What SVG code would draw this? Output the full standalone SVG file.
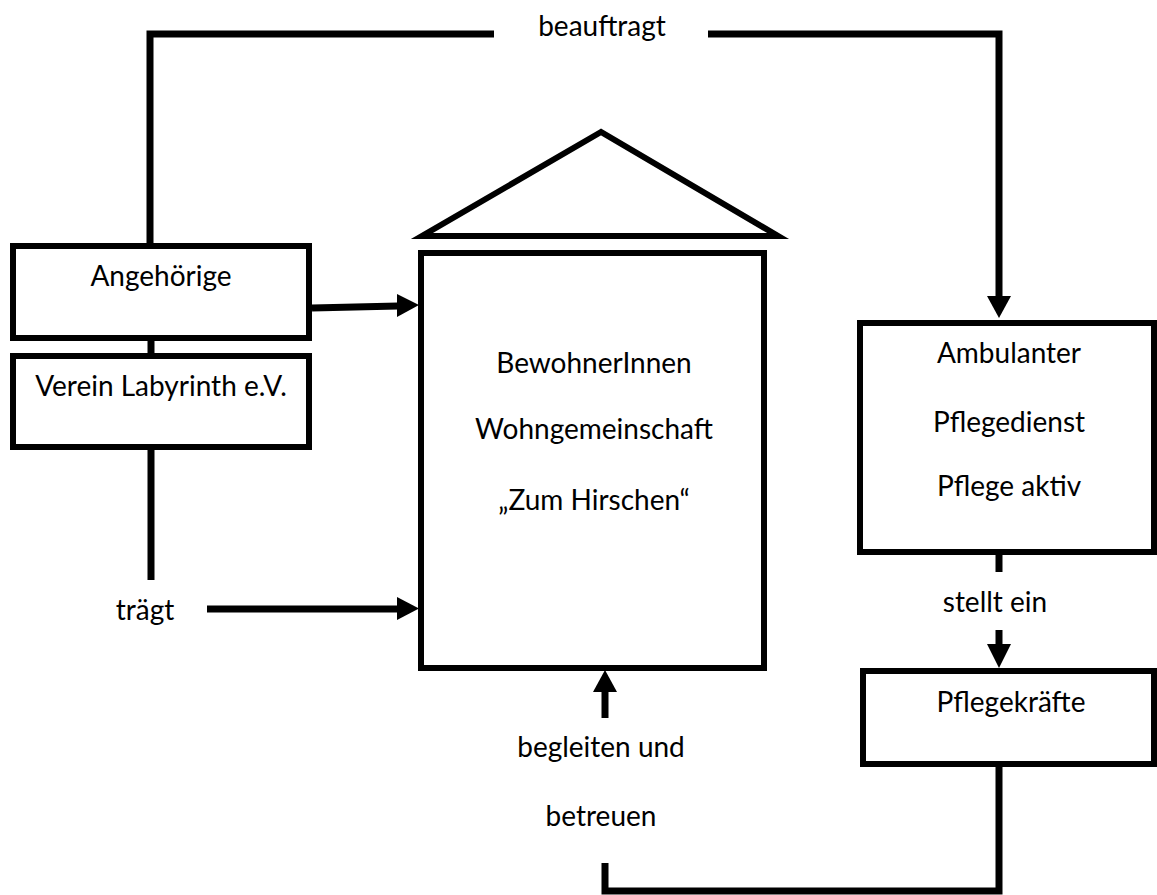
<svg xmlns="http://www.w3.org/2000/svg" width="1157" height="895" viewBox="0 0 1157 895">
<style>
.box{fill:#fff;stroke:#000;stroke-width:6}
.con{fill:none;stroke:#000;stroke-width:7}
text{font-family:Lato,"Open Sans","Liberation Sans",sans-serif;font-size:28px;fill:#000;text-anchor:middle}
</style>
<defs>
<marker id="ah" markerUnits="userSpaceOnUse" markerWidth="24" markerHeight="24" refX="22" refY="11.5" orient="auto">
<path d="M0,0 L22,11.5 L0,23 z" fill="#000"/>
</marker>
</defs>
<rect width="1157" height="895" fill="#fff"/>
<g id="connectors">
<path class="con" d="M150,246 V34 H494"/>
<path class="con" d="M708,34 H999 V296"/>
<path d="M987,296 L1011,296 L999,318 z" fill="#000"/>
<path class="con" d="M312,308 L398,306"/>
<path d="M397,294 L419,305 L397,317 z" fill="#000"/>
<path class="con" d="M151,341 V353"/>
<path class="con" d="M151,450 V580"/>
<path class="con" d="M207,609 H398"/>
<path d="M397,597 L419,608.5 L397,620 z" fill="#000"/>
<path class="con" d="M605,718 V690"/>
<path d="M593,692 L605,670 L617,692 z" fill="#000"/>
<path class="con" d="M605,863 V891 H999 V761"/>
<path class="con" d="M999,555 V572"/>
<path class="con" d="M999,630 V646"/>
<path d="M987,644 L1011,644 L999,668 z" fill="#000"/>
<text x="602" y="36">beauftragt</text>
<text x="145" y="620">trägt</text>
<text x="601" y="757">begleiten und</text>
<text x="601" y="826">betreuen</text>
<text x="995" y="612">stellt ein</text>
</g>
<g id="angehoerige">
<rect class="box" x="13" y="246" width="296" height="92"/>
<text x="161" y="286">Angehörige</text>
</g>
<g id="verein">
<rect class="box" x="13" y="356" width="296" height="91"/>
<text x="161" y="396">Verein Labyrinth e.V.</text>
</g>
<g id="wohngemeinschaft">
<polygon class="box" points="601,132 422,236 778,236"/>
<rect class="box" x="421" y="253" width="343" height="415"/>
<text x="594" y="373">BewohnerInnen</text>
<text x="594" y="439">Wohngemeinschaft</text>
<text x="594" y="510">„Zum Hirschen“</text>
</g>
<g id="pflegedienst">
<rect class="box" x="860" y="323" width="294" height="229"/>
<text x="1009" y="363">Ambulanter</text>
<text x="1009" y="432">Pflegedienst</text>
<text x="1009" y="496">Pflege aktiv</text>
</g>
<g id="pflegekraefte">
<rect class="box" x="863" y="671" width="291" height="93"/>
<text x="1011" y="712">Pflegekräfte</text>
</g>
</svg>
